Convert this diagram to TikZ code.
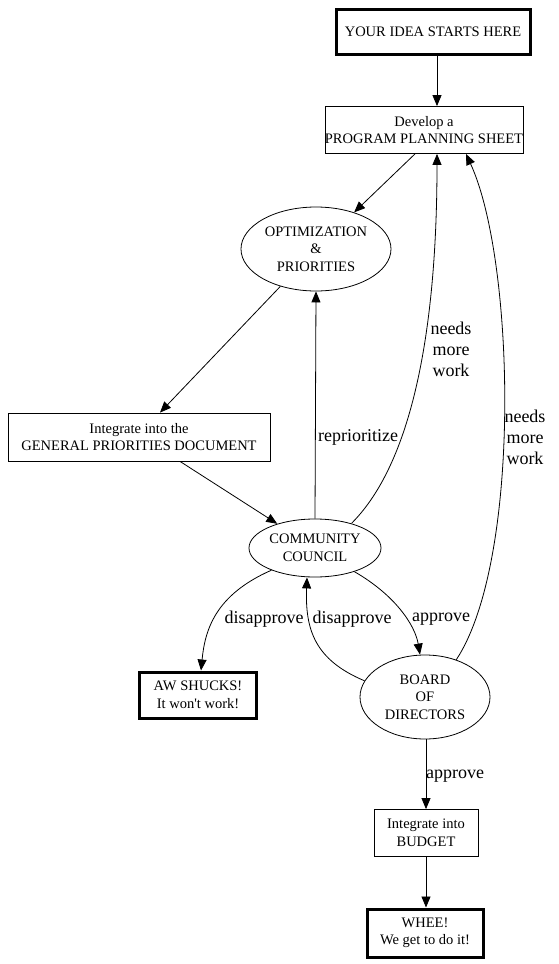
\documentclass[tikz,border=0pt]{standalone}
\usepackage{fontspec}
\setmainfont{Liberation Serif}
\newfontfamily\rawserif{Liberation Serif}
\usetikzlibrary{arrows.meta,shapes.geometric}
\begin{document}
\begin{tikzpicture}[x=1pt,y=-1pt,
  nodefont/.style={font=\fontsize{14.5}{17.5}\selectfont},
  box/.style={draw, rectangle, line width=0.8pt, align=center, inner sep=0pt, nodefont},
  thickbox/.style={box, line width=3pt},
  oval/.style={draw, ellipse, line width=0.8pt, align=center, inner sep=0pt, nodefont},
  lbl/.style={font=\fontsize{18}{21}\selectfont, align=center, inner sep=0pt},
  arr/.style={line width=0.8pt, -{Triangle[length=11pt,width=9pt]}}
]
\useasboundingbox (0,0) rectangle (558,964);

\node[thickbox, minimum width=194pt, minimum height=45pt] (idea) at (433,32) {YOUR IDEA STARTS HERE};
\node[box, minimum width=196pt, minimum height=47pt] (dev) at (424,130) {Develop a\\PROGRAM PLANNING SHEET};
\node[oval, minimum width=150pt, minimum height=84pt] (opt) at (316,249) {OPTIMIZATION\\\&\\PRIORITIES};
\node[box, minimum width=262pt, minimum height=48pt] (gpd) at (139,437) {Integrate into the\\GENERAL PRIORITIES DOCUMENT};
\node[oval, minimum width=132pt, minimum height=58pt] (cc) at (315,548) {COMMUNITY\\COUNCIL};
\node[thickbox, minimum width=117pt, minimum height=46pt] (aw) at (198,695) {AW SHUCKS!\\It won{\rawserif '}t work!};
\node[oval, minimum width=130pt, minimum height=84pt] (board) at (425,697) {BOARD\\OF\\DIRECTORS};
\node[box, minimum width=104pt, minimum height=47pt] (budget) at (426,833) {Integrate into\\BUDGET};
\node[thickbox, minimum width=116pt, minimum height=48pt] (whee) at (425,933) {WHEE!\\We get to do it!};

% edges
\draw[arr] ([xshift=4pt]idea.south) -- ([xshift=13pt]dev.north);
\draw[arr] ([xshift=-9pt]dev.south) -- (opt);
\draw[arr] (opt) -- ([xshift=21pt]gpd.north);
\draw[arr] ([xshift=41pt]gpd.south) -- (cc);
\draw[arr] (cc.north) -- (opt.south);
\draw[arr] (cc.34) .. controls (415,460) and (437,320) .. ([xshift=13pt]dev.south);
\draw[arr] (board.50) .. controls (522,560) and (515,260) .. ([xshift=42pt]dev.south);
\draw[arr] (cc.207) .. controls (215,595) and (205,630) .. ([xshift=3pt]aw.north);
\draw[arr] (board.165) .. controls (315,660) and (305,630) .. ([xshift=-8pt]cc.south);
\draw[arr] (cc.-31) .. controls (395,595) and (415,625) .. ([xshift=-5pt]board.north);
\draw[arr] ([xshift=1pt]board.south) -- (budget.north);
\draw[arr] (budget.south) -- ([xshift=1pt]whee.north);

% labels
\node[lbl] (lrep) at (358,437) {reprioritize};
\node[lbl] (lnmw1) at (451,349) {needs\\more\\work};
\node[lbl] (lnmw2) at (525,437) {needs\\more\\work};
\node[lbl] (ldis1) at (264,619) {disapprove};
\node[lbl] (ldis2) at (352,619) {disapprove};
\node[lbl] (lapp1) at (441,619) {approve};
\node[lbl] (lapp2) at (455,776) {approve};
\end{tikzpicture}
\end{document}
